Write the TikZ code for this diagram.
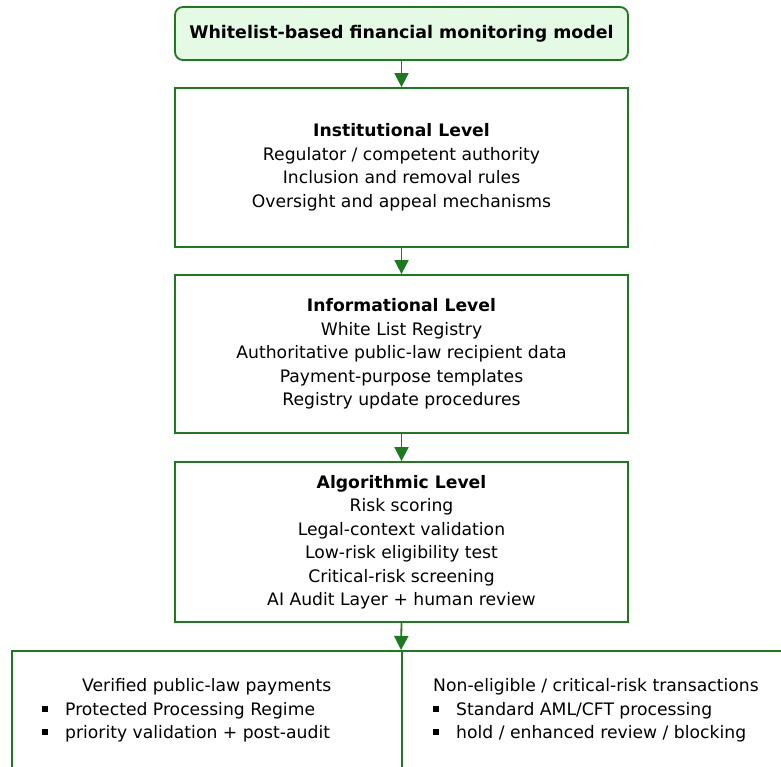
\documentclass[tikz,border=0pt]{standalone}
\usepackage{fontspec}
\setmainfont{DejaVu Sans}
\usetikzlibrary{arrows.meta}
\definecolor{gline}{RGB}{30,122,30}
\definecolor{gfill}{RGB}{228,250,228}
\tikzset{
  lvl/.style={draw=gline, line width=1.8pt, fill=white, minimum width=453pt, inner sep=0pt, align=center, font=\fontsize{17.2}{23.5}\selectfont},
  ttl/.style={lvl, fill=gfill, rounded corners=8pt, minimum height=53pt, font=\fontsize{17.4}{23.5}\selectfont\bfseries},
  outbox/.style={draw=gline, line width=1.8pt, fill=white, inner sep=0pt},
  outtext/.style={anchor=west, inner sep=0pt, align=left, font=\fontsize{17.2}{23.5}\selectfont},
  arr/.style={draw=gline, line width=1.8pt, -{Triangle[length=14pt,width=14pt]}},
}
\newcommand{\blt}{\makebox[23pt][l]{\raisebox{3.5pt}{\rule{6pt}{6pt}}}}
\begin{document}
\begin{tikzpicture}[x=1pt,y=-1pt]
\useasboundingbox (0,0) rectangle (781,767);
\clip (0,0) rectangle (781,767);
\node[ttl] (title) at (401.5,33.5) {Whitelist-based financial monitoring model};
\node[lvl, minimum height=159pt] (inst) at (401.5,167.5) {\textbf{Institutional Level}\\Regulator / competent authority\\Inclusion and removal rules\\Oversight and appeal mechanisms};
\node[lvl, minimum height=158pt] (info) at (401.5,354) {\textbf{Informational Level}\\White List Registry\\Authoritative public-law recipient data\\Payment-purpose templates\\Registry update procedures};
\node[lvl, minimum height=160pt] (algo) at (401.5,542) {\textbf{Algorithmic Level}\\Risk scoring\\Legal-context validation\\Low-risk eligibility test\\Critical-risk screening\\AI Audit Layer + human review};
\node[outbox, minimum width=390pt, minimum height=200pt, anchor=north west] (left) at (11,650) {};
\node[outbox, minimum width=420pt, minimum height=200pt, anchor=north west] (right) at (401,650) {};
\node[outtext] (ltext) at (42,710.5) {\hspace*{40pt}Verified public-law payments\\\blt Protected Processing Regime\\\blt priority validation + post-audit};
\node[outtext] (rtext) at (433,710.5) {Non-eligible / critical-risk transactions\\\blt Standard AML/CFT processing\\\blt hold / enhanced review / blocking};
\draw[arr] (title.south) -- (inst.north);
\draw[arr] (inst.south) -- (info.north);
\draw[arr] (info.south) -- (algo.north);
\draw[arr] (algo.south) -- (right.north west);
\end{tikzpicture}
\end{document}
